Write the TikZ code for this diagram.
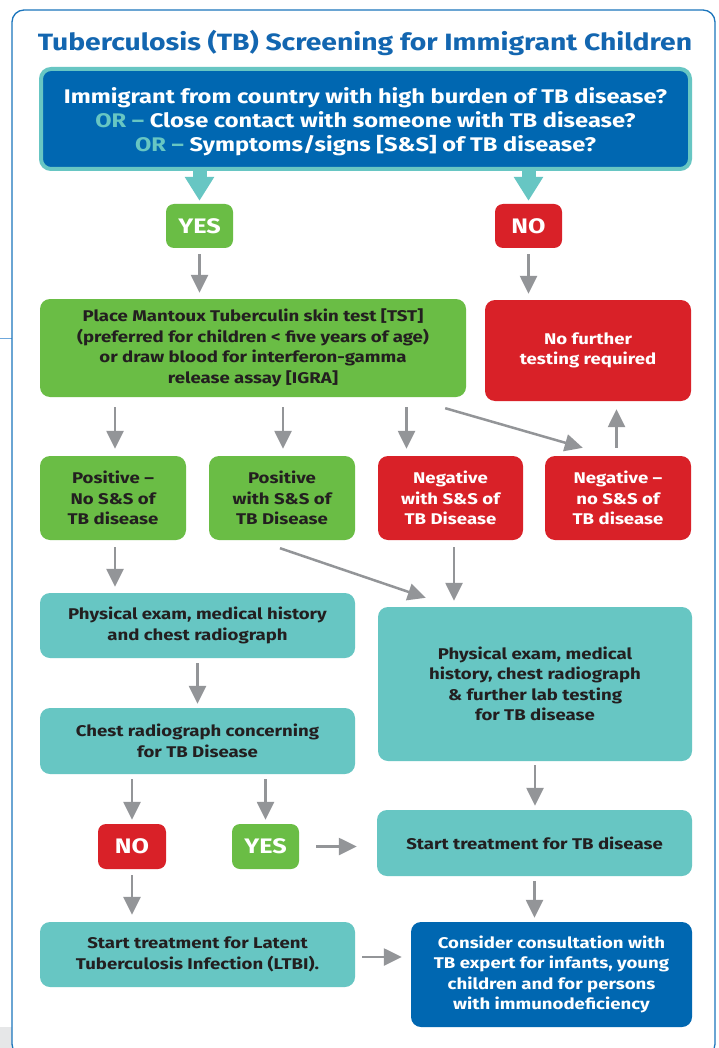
\documentclass[tikz,border=0pt]{standalone}
\usepackage{fontspec}
\setmainfont{Fira Sans}[FakeStretch=1.2]
\usetikzlibrary{arrows.meta,calc}
\definecolor{tbblue}{HTML}{0067B1}
\definecolor{tbtitle}{HTML}{1366B0}
\definecolor{tbteal}{HTML}{67C6C3}
\definecolor{tbgreen}{HTML}{6ABD45}
\definecolor{tbred}{HTML}{D92128}
\definecolor{tbgray}{HTML}{939598}
\definecolor{tbtext}{HTML}{231F20}
\definecolor{tbframe}{HTML}{1B75BC}
\definecolor{tbside}{HTML}{E6E7E8}
\definecolor{tbline}{HTML}{6FA8DC}
\begin{document}
\begin{tikzpicture}[x=1pt,y=-1pt,
 box/.style={rounded corners=10pt, inner sep=0pt, align=center, font=\bfseries\fontsize{15.5}{20.5}\selectfont},
 greenbox/.style={box, fill=tbgreen, text=tbtext},
 redbox/.style={box, fill=tbred, text=white},
 tealbox/.style={box, fill=tbteal, text=tbtext},
 bluebox/.style={box, fill=tbblue, text=white},
 ansbox/.style={rounded corners=8pt, inner sep=0pt, minimum width=67pt, minimum height=44pt, text=white, font=\bfseries\fontsize{21}{24}\selectfont},
 garrow/.style={draw=tbgray, line width=2.5pt, -{Triangle[width=17pt,length=18pt]}},
 tarrow/.style={draw=tbteal, line width=14pt, -{Triangle[width=28pt,length=24pt]}}
]
\useasboundingbox (0,0) rectangle (719,1048);
\fill[white] (0,0) rectangle (719,1048);
\fill[tbside] (0,1027) rectangle (12,1048);
\draw[tbline, line width=0.8pt] (0,338) -- (12,338);
\draw[tbframe, line width=1.3pt, rounded corners=12pt] (12,10) rectangle (715,1056);

\node[font=\bfseries\fontsize{23.6}{28}\selectfont, text=tbtitle, inner sep=0pt] (title) at (365,43) {Tuberculosis (TB) Screening for Immigrant Children};

\node[box, fill=tbblue, draw=tbteal, line width=4pt, text=white, minimum width=649pt, minimum height=100pt, font=\bfseries\fontsize{19.7}{24.2}\selectfont] (q) at (365.5,119)
 {\\[-3pt]Immigrant from country with high burden of TB disease?\\
  {\color{tbteal}OR –} Close contact with someone with TB disease?\\
  {\color{tbteal}OR –} Symptoms/signs [S\&S] of TB disease?};

\node[ansbox, fill=tbgreen] (yes) at (199.5,226) {YES};
\node[ansbox, fill=tbred] (no) at (528.5,226) {NO};

\node[greenbox, minimum width=426pt, minimum height=98pt] (tst) at (253,348)
 {Place Mantoux Tuberculin skin test [TST]\\(preferred for children < five years of age)\\or draw blood for interferon-gamma\\release assay [IGRA]};
\node[redbox, minimum width=206pt, minimum height=101pt] (nf) at (588,350.5)
 {No further\\testing required};

\node[greenbox, minimum width=146pt, minimum height=84pt] (pos1) at (113,498) {Positive –\\No S\&S of\\TB disease};
\node[greenbox, minimum width=146pt, minimum height=84pt] (pos2) at (282,498) {Positive\\with S\&S of\\TB Disease};
\node[redbox, minimum width=145pt, minimum height=84pt] (neg1) at (450.5,498) {Negative\\with S\&S of\\TB Disease};
\node[redbox, minimum width=146pt, minimum height=84pt] (neg2) at (618,498) {Negative –\\no S\&S of\\TB disease};

\node[tealbox, minimum width=315pt, minimum height=65pt] (phys) at (197.5,625.5) {Physical exam, medical history\\and chest radiograph};
\node[tealbox, minimum width=314pt, minimum height=154pt] (big) at (535,684) {Physical exam, medical\\history, chest radiograph\\\& further lab testing\\for TB disease};
\node[tealbox, minimum width=315pt, minimum height=66pt] (chest) at (197.5,741) {Chest radiograph concerning\\for TB Disease};

\node[ansbox, minimum width=68pt, minimum height=45pt, fill=tbred] (no2) at (132,846.5) {NO};
\node[ansbox, minimum width=67pt, minimum height=45pt, fill=tbgreen] (yes2) at (265.5,846.5) {YES};
\node[tealbox, minimum width=315pt, minimum height=66pt] (start) at (534.5,843) {Start treatment for TB disease};

\node[tealbox, minimum width=315pt, minimum height=65pt] (ltbi) at (197.5,954.5) {Start treatment for Latent\\Tuberculosis Infection (LTBI).};
\node[bluebox, minimum width=281pt, minimum height=105pt] (cons) at (551.5,974.5) {Consider consultation with\\TB expert for infants, young\\children and for persons\\with immunodeficiency};

% teal arrows
\draw[tarrow, shorten >=3pt] (yes.north |- q.south) -- (yes.north);
\draw[tarrow, shorten >=3pt] (no.north |- q.south) -- (no.north);

% gray arrows
\draw[garrow, shorten <=6pt, shorten >=6pt] (yes.south) -- (yes.south |- tst.north);
\draw[garrow, shorten <=6pt, shorten >=6pt] (no.south) -- (no.south |- nf.north);
\draw[garrow, shorten <=10pt, shorten >=7pt] ($(pos1.north |- tst.south)+(2,0)$) -- ($(pos1.north)+(2,0)$);
\draw[garrow, shorten <=10pt, shorten >=7pt] ($(pos2.north |- tst.south)+(1,0)$) -- ($(pos2.north)+(1,0)$);
\draw[garrow, shorten <=10pt, shorten >=7pt] ($(neg1.north |- tst.south)+(-44,0)$) -- ($(neg1.north)+(-44,0)$);
\draw[garrow] ($(tst.south east)+(-21,11)$) -- ($(neg2.north west)+(38,-8)$);
\draw[garrow, shorten <=8pt, shorten >=8pt] ($(neg2.north)+(-1.5,0)$) -- ($(neg2.north |- nf.south)+(-1.5,0)$);
\draw[garrow, shorten <=7pt, shorten >=6pt] ($(pos1.south)+(2,0)$) -- ($(pos1.south |- phys.north)+(2,0)$);
\draw[garrow] ($(pos2.south)+(-2,8)$) -- ($(big.north west)+(48,-9)$);
\draw[garrow, shorten <=7pt, shorten >=6pt] ($(neg1.south)+(3.5,0)$) -- ($(neg1.south |- big.north)+(3.5,0)$);
\draw[garrow, shorten <=5pt, shorten >=4pt] (phys.south) -- (phys.south |- chest.north);
\draw[garrow, shorten <=5pt, shorten >=4pt] (chest.south -| no2.north) -- (no2.north);
\draw[garrow, shorten <=5pt, shorten >=4pt] (chest.south -| yes2.north) -- (yes2.north);
\draw[garrow, shorten <=17pt, shorten >=20pt] (yes2.east) -- (yes2.east -| start.west);
\draw[garrow, shorten <=4pt, shorten >=4pt] (big.south) -- (big.south |- start.north);
\draw[garrow, shorten <=6pt, shorten >=7pt] (no2.south) -- (no2.south |- ltbi.north);
\draw[garrow, shorten <=7pt, shorten >=9pt] ($(ltbi.east)+(0,2.5)$) -- ($(ltbi.east -| cons.west)+(0,2.5)$);
\draw[garrow, shorten <=5pt, shorten >=4pt] (start.south) -- (start.south |- cons.north);
\end{tikzpicture}
\end{document}
